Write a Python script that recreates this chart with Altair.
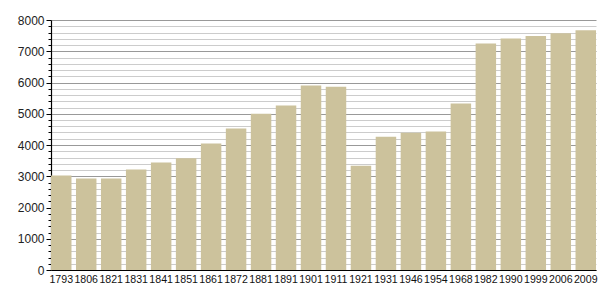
import altair as alt
import pandas as pd

years = ["1793", "1806", "1821", "1831", "1841", "1851", "1861", "1872", "1881", "1891", "1901",
         "1911", "1921", "1931", "1946", "1954", "1968", "1982", "1990", "1999", "2006", "2009"]
population = [3025, 2930, 2930, 3215, 3440, 3580, 4050, 4530, 5000, 5265, 5905,
              5865, 3340, 4265, 4390, 4430, 5325, 7250, 7410, 7490, 7575, 7670]

df = pd.DataFrame({"year": years, "pop": population})

tick_values = list(range(0, 8001, 200))

chart = alt.Chart(df).mark_bar(color="#CCC29C").encode(
    x=alt.X("year:N", sort=None, title=None,
            scale=alt.Scale(paddingInner=0.18, paddingOuter=0),
            axis=alt.Axis(labelAngle=0, ticks=False, labelPadding=4, labelFontSize=10.6,
                          labelFont="Liberation Sans", labelColor="#111", domainColor="#000",
                          domainWidth=1.2, grid=False, labelOverlap=False)),
    y=alt.Y("pop:Q", title=None,
            scale=alt.Scale(domain=[0, 8000], nice=False),
            axis=alt.Axis(values=tick_values,
                          labelExpr="datum.value % 1000 === 0 ? datum.label : ''",
                          labelFontSize=12, labelFont="Liberation Sans", labelColor="#222",
                          labelPadding=2,
                          tickSize=alt.condition("datum.value % 1000 === 0", alt.value(5), alt.value(3)),
                          tickColor="#000", domainColor="#000", domainWidth=1.2,
                          gridColor=alt.condition("datum.value % 1000 === 0", alt.value("#999999"), alt.value("#cccccc")),
                          gridWidth=1, format="d")),
).properties(
    width=545, height=250,
    autosize=alt.AutoSizeParams(type="none"),
    padding={"left": 51, "top": 20, "right": 9, "bottom": 30},
).configure_view(stroke=None)

chart.save("out.html", embed_options={"renderer": "svg", "actions": False})
